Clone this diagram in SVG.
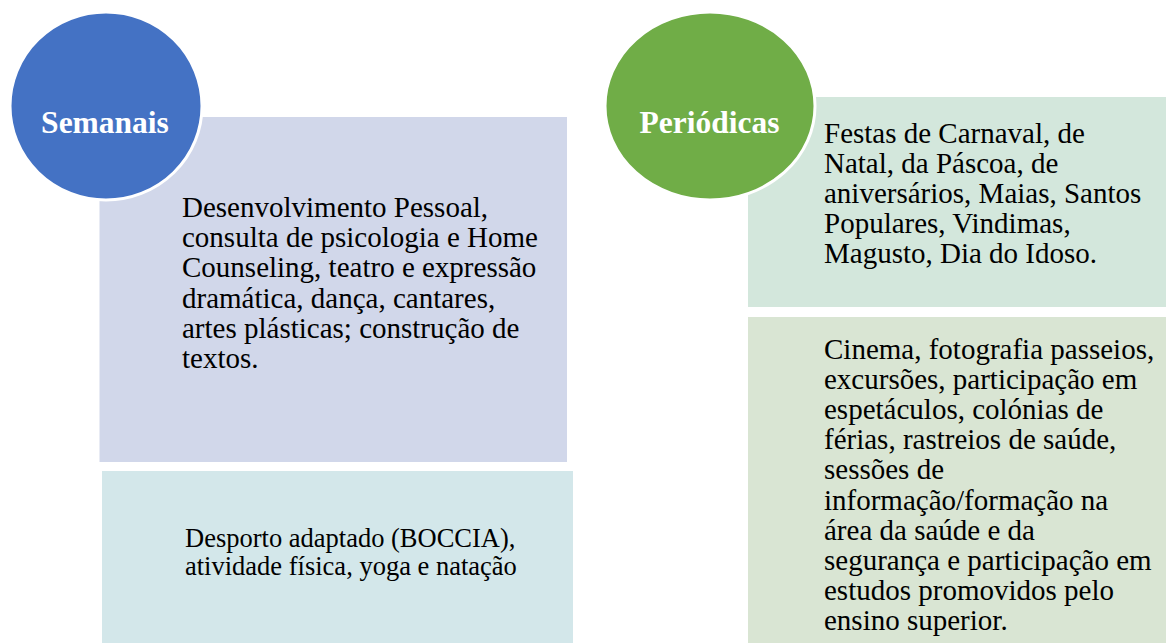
<svg xmlns="http://www.w3.org/2000/svg" width="1166" height="643" viewBox="0 0 1166 643">
<style>
.body{font-family:"Liberation Serif","Times New Roman",serif;font-size:29px;fill:#000}
.small{font-family:"Liberation Serif","Times New Roman",serif;font-size:26.5px;fill:#000}
.title{font-family:"Liberation Serif","Times New Roman",serif;font-size:31.5px;font-weight:bold;fill:#fff;text-anchor:middle}
.circ{stroke:#fff;stroke-width:3}
</style>
<rect width="1166" height="643" fill="#fff"/>
<g id="connectors"></g>
<g id="semanais-desenvolvimento">
<rect x="99.5" y="117" width="467.5" height="345" fill="#D1D7EA"/>
<text class="body" x="182">
<tspan x="182" y="217">Desenvolvimento Pessoal,</tspan>
<tspan x="182" y="247.2">consulta de psicologia e Home</tspan>
<tspan x="182" y="277.4">Counseling, teatro e expressão</tspan>
<tspan x="182" y="307.6">dramática, dança, cantares,</tspan>
<tspan x="182" y="337.8">artes plásticas; construção de</tspan>
<tspan x="182" y="368">textos.</tspan>
</text>
</g>
<g id="semanais-desporto">
<rect x="102" y="471" width="471" height="172" fill="#D3E7EA"/>
<text class="small" x="185">
<tspan x="185" y="547">Desporto adaptado (BOCCIA),</tspan>
<tspan x="185" y="574.5">atividade física, yoga e natação</tspan>
</text>
</g>
<g id="periodicas-festas">
<rect x="748" y="97" width="418" height="210" fill="#D3E7DC"/>
<text class="body" x="824">
<tspan x="824" y="142.5">Festas de Carnaval, de</tspan>
<tspan x="824" y="172.7">Natal, da Páscoa, de</tspan>
<tspan x="824" y="202.9">aniversários, Maias, Santos</tspan>
<tspan x="824" y="233.1">Populares, Vindimas,</tspan>
<tspan x="824" y="263.3">Magusto, Dia do Idoso.</tspan>
</text>
</g>
<g id="periodicas-cinema">
<rect x="748" y="317" width="418" height="326" fill="#D9E5D3"/>
<text class="body" x="824">
<tspan x="824" y="358.5">Cinema, fotografia passeios,</tspan>
<tspan x="824" y="388.7">excursões, participação em</tspan>
<tspan x="824" y="418.9">espetáculos, colónias de</tspan>
<tspan x="824" y="449.1">férias, rastreios de saúde,</tspan>
<tspan x="824" y="479.3">sessões de</tspan>
<tspan x="824" y="509.5">informação/formação na</tspan>
<tspan x="824" y="539.7">área da saúde e da</tspan>
<tspan x="824" y="569.9">segurança e participação em</tspan>
<tspan x="824" y="600.1">estudos promovidos pelo</tspan>
<tspan x="824" y="630.3">ensino superior.</tspan>
</text>
</g>
<g id="semanais">
<ellipse class="circ" cx="106" cy="106" rx="96" ry="94" fill="#4472C4"/>
<text class="title" x="105" y="133">Semanais</text>
</g>
<g id="periodicas">
<ellipse class="circ" cx="710" cy="106" rx="105" ry="94" fill="#70AD47"/>
<text class="title" x="709.5" y="133">Periódicas</text>
</g>
</svg>
